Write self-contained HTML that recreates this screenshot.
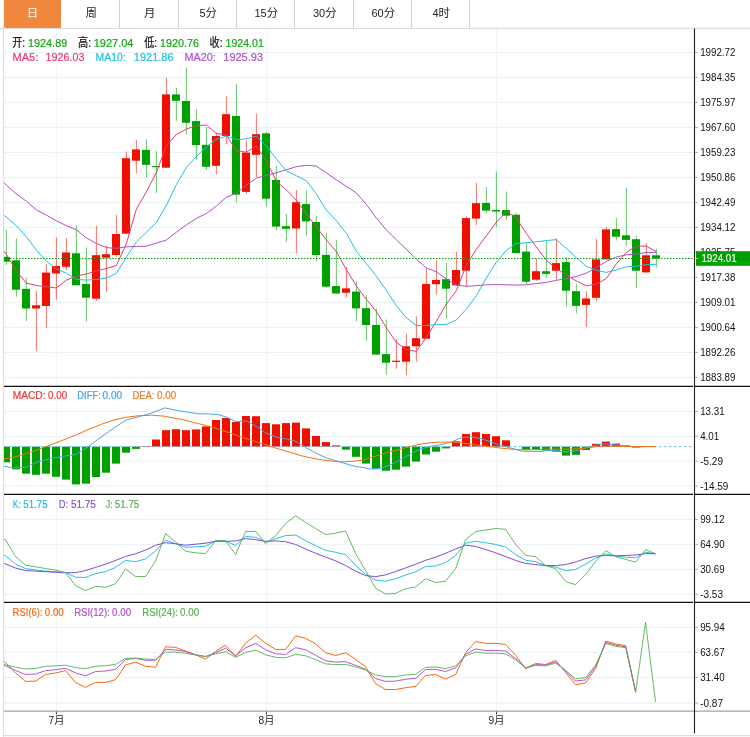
<!DOCTYPE html>
<html lang="zh-CN"><head><meta charset="utf-8"><title>K线图</title>
<style>
html,body{margin:0;padding:0;background:#fff;}
body{width:750px;height:737px;position:relative;overflow:hidden;font-family:"Liberation Sans","Noto Sans CJK SC",sans-serif;}
svg{position:absolute;left:0;top:0;font-family:"Liberation Sans","Noto Sans CJK SC",sans-serif;}
.tabs{position:absolute;left:4px;top:0;height:28px;display:flex;z-index:2}
.tab{box-sizing:border-box;height:28px;line-height:27px;text-align:center;font-size:11.4px;color:#222;padding-left:1.5px;border-right:1px solid #d2d2d2;background:#fff}
.tab span{font-size:11px}
.tab.on{background:#f0873c;color:#fff;border-right-color:#fff;height:27.7px;padding-left:0;border-radius:0 0 0 2px}
</style></head><body>
<div class="tabs"><div class="tab on" style="width:58px">日</div><div class="tab" style="width:58px">周</div><div class="tab" style="width:59px">月</div><div class="tab" style="width:58px"><span>5</span>分</div><div class="tab" style="width:58px"><span>15</span>分</div><div class="tab" style="width:59px"><span>30</span>分</div><div class="tab" style="width:58px"><span>60</span>分</div><div class="tab" style="width:58px"><span>4</span>时</div></div>
<svg width="750" height="737" viewBox="0 0 750 737">
<defs><clipPath id="cp"><rect x="4" y="28" width="691" height="684"/></clipPath></defs>
<g stroke="#e8f0f5" stroke-width="1" fill="none">
<line x1="4" x2="693" y1="52.4" y2="52.4"/>
<line x1="4" x2="693" y1="77.4" y2="77.4"/>
<line x1="4" x2="693" y1="102.4" y2="102.4"/>
<line x1="4" x2="693" y1="127.4" y2="127.4"/>
<line x1="4" x2="693" y1="152.4" y2="152.4"/>
<line x1="4" x2="693" y1="177.4" y2="177.4"/>
<line x1="4" x2="693" y1="202.4" y2="202.4"/>
<line x1="4" x2="693" y1="227.4" y2="227.4"/>
<line x1="4" x2="693" y1="252.4" y2="252.4"/>
<line x1="4" x2="693" y1="277.4" y2="277.4"/>
<line x1="4" x2="693" y1="302.4" y2="302.4"/>
<line x1="4" x2="693" y1="327.4" y2="327.4"/>
<line x1="4" x2="693" y1="352.4" y2="352.4"/>
<line x1="4" x2="693" y1="377.4" y2="377.4"/>
<line x1="4" x2="693" y1="411.5" y2="411.5"/>
<line x1="4" x2="693" y1="436.3" y2="436.3"/>
<line x1="4" x2="693" y1="461.1" y2="461.1"/>
<line x1="4" x2="693" y1="485.9" y2="485.9"/>
<line x1="4" x2="693" y1="519.4" y2="519.4"/>
<line x1="4" x2="693" y1="544.3" y2="544.3"/>
<line x1="4" x2="693" y1="569.3" y2="569.3"/>
<line x1="4" x2="693" y1="594.3" y2="594.3"/>
<line x1="4" x2="693" y1="627.3" y2="627.3"/>
<line x1="4" x2="693" y1="652.2" y2="652.2"/>
<line x1="4" x2="693" y1="677.5" y2="677.5"/>
<line x1="4" x2="693" y1="703.2" y2="703.2"/>
<line x1="56.4" x2="56.4" y1="28.5" y2="711" stroke="#eff4f8"/>
<line x1="266.5" x2="266.5" y1="28.5" y2="711" stroke="#eff4f8"/>
<line x1="496.5" x2="496.5" y1="28.5" y2="711" stroke="#eff4f8"/>
</g>
<line x1="0" x2="750" y1="28.3" y2="28.3" stroke="#dcdcdc" stroke-width="1.2"/>
<line x1="3.5" x2="3.5" y1="26" y2="737" stroke="#dcdcdc" stroke-width="1"/>
<line x1="3" x2="750" y1="735.6" y2="735.6" stroke="#dcdcdc" stroke-width="1.2"/>
<g clip-path="url(#cp)">
<line x1="6.4" x2="6.4" y1="230.0" y2="265.0" stroke="#00a000" stroke-width="1.1" stroke-opacity="0.55"/>
<rect x="2" y="256.9" width="8" height="4.7" fill="#00a000"/>
<line x1="16.4" x2="16.4" y1="238.4" y2="296.7" stroke="#00a000" stroke-width="1.1" stroke-opacity="0.55"/>
<rect x="12" y="260.3" width="8" height="29.4" fill="#00a000"/>
<line x1="26.4" x2="26.4" y1="278.2" y2="320.9" stroke="#00a000" stroke-width="1.1" stroke-opacity="0.55"/>
<rect x="22" y="288.9" width="8" height="19.6" fill="#00a000"/>
<line x1="36.4" x2="36.4" y1="290.9" y2="350.7" stroke="#ee1100" stroke-width="1.1" stroke-opacity="0.55"/>
<rect x="32" y="305.3" width="8" height="3.2" fill="#ee1100"/>
<line x1="46.4" x2="46.4" y1="264.0" y2="327.8" stroke="#ee1100" stroke-width="1.1" stroke-opacity="0.55"/>
<rect x="42" y="272.6" width="8" height="33.4" fill="#ee1100"/>
<line x1="56.4" x2="56.4" y1="237.4" y2="299.7" stroke="#ee1100" stroke-width="1.1" stroke-opacity="0.55"/>
<rect x="52" y="266.0" width="8" height="7.5" fill="#ee1100"/>
<line x1="66.4" x2="66.4" y1="237.9" y2="270.1" stroke="#ee1100" stroke-width="1.1" stroke-opacity="0.55"/>
<rect x="62" y="252.5" width="8" height="14.2" fill="#ee1100"/>
<line x1="76.4" x2="76.4" y1="225.2" y2="285.3" stroke="#00a000" stroke-width="1.1" stroke-opacity="0.55"/>
<rect x="72" y="253.3" width="8" height="32.0" fill="#00a000"/>
<line x1="86.4" x2="86.4" y1="247.4" y2="321.4" stroke="#00a000" stroke-width="1.1" stroke-opacity="0.55"/>
<rect x="82" y="284.0" width="8" height="13.7" fill="#00a000"/>
<line x1="96.4" x2="96.4" y1="225.9" y2="300.7" stroke="#ee1100" stroke-width="1.1" stroke-opacity="0.55"/>
<rect x="92" y="255.2" width="8" height="43.5" fill="#ee1100"/>
<line x1="106.4" x2="106.4" y1="245.4" y2="291.9" stroke="#ee1100" stroke-width="1.1" stroke-opacity="0.55"/>
<rect x="102" y="254.2" width="8" height="3.5" fill="#ee1100"/>
<line x1="116.4" x2="116.4" y1="215.1" y2="256.7" stroke="#ee1100" stroke-width="1.1" stroke-opacity="0.55"/>
<rect x="112" y="234.0" width="8" height="21.0" fill="#ee1100"/>
<line x1="126.4" x2="126.4" y1="151.6" y2="233.7" stroke="#ee1100" stroke-width="1.1" stroke-opacity="0.55"/>
<rect x="122" y="158.2" width="8" height="75.5" fill="#ee1100"/>
<line x1="136.4" x2="136.4" y1="140.1" y2="172.9" stroke="#ee1100" stroke-width="1.1" stroke-opacity="0.55"/>
<rect x="132" y="149.4" width="8" height="11.3" fill="#ee1100"/>
<line x1="146.4" x2="146.4" y1="139.2" y2="177.3" stroke="#00a000" stroke-width="1.1" stroke-opacity="0.55"/>
<rect x="142" y="149.9" width="8" height="14.9" fill="#00a000"/>
<line x1="156.4" x2="156.4" y1="151.1" y2="192.9" stroke="#00a000" stroke-width="1.1" stroke-opacity="0.55"/>
<rect x="152" y="166.0" width="8" height="1.2" fill="#00a000"/>
<line x1="166.4" x2="166.4" y1="77.8" y2="167.7" stroke="#ee1100" stroke-width="1.1" stroke-opacity="0.55"/>
<rect x="162" y="94.4" width="8" height="73.3" fill="#ee1100"/>
<line x1="176.4" x2="176.4" y1="87.9" y2="120.8" stroke="#00a000" stroke-width="1.1" stroke-opacity="0.55"/>
<rect x="172" y="94.4" width="8" height="6.4" fill="#00a000"/>
<line x1="186.4" x2="186.4" y1="68.3" y2="134.5" stroke="#00a000" stroke-width="1.1" stroke-opacity="0.55"/>
<rect x="182" y="101.0" width="8" height="21.8" fill="#00a000"/>
<line x1="196.4" x2="196.4" y1="109.1" y2="159.7" stroke="#00a000" stroke-width="1.1" stroke-opacity="0.55"/>
<rect x="192" y="121.1" width="8" height="23.9" fill="#00a000"/>
<line x1="206.4" x2="206.4" y1="127.2" y2="170.0" stroke="#00a000" stroke-width="1.1" stroke-opacity="0.55"/>
<rect x="202" y="144.8" width="8" height="22.0" fill="#00a000"/>
<line x1="216.4" x2="216.4" y1="133.0" y2="174.3" stroke="#ee1100" stroke-width="1.1" stroke-opacity="0.55"/>
<rect x="212" y="136.0" width="8" height="29.8" fill="#ee1100"/>
<line x1="226.4" x2="226.4" y1="96.2" y2="144.3" stroke="#ee1100" stroke-width="1.1" stroke-opacity="0.55"/>
<rect x="222" y="114.2" width="8" height="21.8" fill="#ee1100"/>
<line x1="236.4" x2="236.4" y1="84.2" y2="202.4" stroke="#00a000" stroke-width="1.1" stroke-opacity="0.55"/>
<rect x="232" y="116.0" width="8" height="78.6" fill="#00a000"/>
<line x1="246.4" x2="246.4" y1="140.3" y2="193.9" stroke="#ee1100" stroke-width="1.1" stroke-opacity="0.55"/>
<rect x="242" y="152.6" width="8" height="39.3" fill="#ee1100"/>
<line x1="256.4" x2="256.4" y1="113.7" y2="177.0" stroke="#ee1100" stroke-width="1.1" stroke-opacity="0.55"/>
<rect x="252" y="134.2" width="8" height="20.6" fill="#ee1100"/>
<line x1="266.4" x2="266.4" y1="132.0" y2="206.6" stroke="#00a000" stroke-width="1.1" stroke-opacity="0.55"/>
<rect x="262" y="133.3" width="8" height="65.4" fill="#00a000"/>
<line x1="276.4" x2="276.4" y1="166.0" y2="230.7" stroke="#00a000" stroke-width="1.1" stroke-opacity="0.55"/>
<rect x="272" y="179.9" width="8" height="46.7" fill="#00a000"/>
<line x1="286.4" x2="286.4" y1="213.9" y2="241.7" stroke="#00a000" stroke-width="1.1" stroke-opacity="0.55"/>
<rect x="282" y="226.1" width="8" height="2.7" fill="#00a000"/>
<line x1="296.4" x2="296.4" y1="189.9" y2="253.0" stroke="#ee1100" stroke-width="1.1" stroke-opacity="0.55"/>
<rect x="292" y="202.2" width="8" height="26.3" fill="#ee1100"/>
<line x1="306.4" x2="306.4" y1="190.2" y2="235.5" stroke="#00a000" stroke-width="1.1" stroke-opacity="0.55"/>
<rect x="302" y="204.1" width="8" height="17.3" fill="#00a000"/>
<line x1="316.4" x2="316.4" y1="216.1" y2="261.5" stroke="#00a000" stroke-width="1.1" stroke-opacity="0.55"/>
<rect x="312" y="222.0" width="8" height="33.0" fill="#00a000"/>
<line x1="326.4" x2="326.4" y1="233.0" y2="287.7" stroke="#00a000" stroke-width="1.1" stroke-opacity="0.55"/>
<rect x="322" y="254.9" width="8" height="31.8" fill="#00a000"/>
<line x1="336.4" x2="336.4" y1="240.0" y2="293.5" stroke="#00a000" stroke-width="1.1" stroke-opacity="0.55"/>
<rect x="332" y="286.0" width="8" height="7.5" fill="#00a000"/>
<line x1="346.4" x2="346.4" y1="266.9" y2="297.4" stroke="#ee1100" stroke-width="1.1" stroke-opacity="0.55"/>
<rect x="342" y="288.4" width="8" height="4.4" fill="#ee1100"/>
<line x1="356.4" x2="356.4" y1="281.1" y2="321.6" stroke="#00a000" stroke-width="1.1" stroke-opacity="0.55"/>
<rect x="352" y="291.6" width="8" height="16.8" fill="#00a000"/>
<line x1="366.4" x2="366.4" y1="295.2" y2="340.4" stroke="#00a000" stroke-width="1.1" stroke-opacity="0.55"/>
<rect x="362" y="308.2" width="8" height="16.8" fill="#00a000"/>
<line x1="376.4" x2="376.4" y1="308.4" y2="354.6" stroke="#00a000" stroke-width="1.1" stroke-opacity="0.55"/>
<rect x="372" y="325.0" width="8" height="29.6" fill="#00a000"/>
<line x1="386.4" x2="386.4" y1="319.4" y2="374.4" stroke="#00a000" stroke-width="1.1" stroke-opacity="0.55"/>
<rect x="382" y="354.1" width="8" height="8.6" fill="#00a000"/>
<line x1="396.4" x2="396.4" y1="339.2" y2="368.8" stroke="#ee1100" stroke-width="1.1" stroke-opacity="0.55"/>
<rect x="392" y="360.7" width="8" height="1.2" fill="#ee1100"/>
<line x1="406.4" x2="406.4" y1="333.8" y2="374.9" stroke="#ee1100" stroke-width="1.1" stroke-opacity="0.55"/>
<rect x="402" y="346.3" width="8" height="15.4" fill="#ee1100"/>
<line x1="416.4" x2="416.4" y1="316.5" y2="361.7" stroke="#ee1100" stroke-width="1.1" stroke-opacity="0.55"/>
<rect x="412" y="338.2" width="8" height="8.1" fill="#ee1100"/>
<line x1="426.4" x2="426.4" y1="268.4" y2="338.7" stroke="#ee1100" stroke-width="1.1" stroke-opacity="0.55"/>
<rect x="422" y="284.0" width="8" height="54.7" fill="#ee1100"/>
<line x1="436.4" x2="436.4" y1="260.3" y2="294.5" stroke="#ee1100" stroke-width="1.1" stroke-opacity="0.55"/>
<rect x="432" y="279.9" width="8" height="4.3" fill="#ee1100"/>
<line x1="446.4" x2="446.4" y1="263.0" y2="318.0" stroke="#00a000" stroke-width="1.1" stroke-opacity="0.55"/>
<rect x="442" y="279.2" width="8" height="9.5" fill="#00a000"/>
<line x1="456.4" x2="456.4" y1="251.9" y2="286.0" stroke="#ee1100" stroke-width="1.1" stroke-opacity="0.55"/>
<rect x="452" y="270.0" width="8" height="15.3" fill="#ee1100"/>
<line x1="466.4" x2="466.4" y1="216.2" y2="286.1" stroke="#ee1100" stroke-width="1.1" stroke-opacity="0.55"/>
<rect x="462" y="218.1" width="8" height="52.6" fill="#ee1100"/>
<line x1="476.4" x2="476.4" y1="183.0" y2="225.0" stroke="#ee1100" stroke-width="1.1" stroke-opacity="0.55"/>
<rect x="472" y="203.2" width="8" height="15.4" fill="#ee1100"/>
<line x1="486.4" x2="486.4" y1="186.9" y2="212.8" stroke="#00a000" stroke-width="1.1" stroke-opacity="0.55"/>
<rect x="482" y="203.0" width="8" height="7.6" fill="#00a000"/>
<line x1="496.4" x2="496.4" y1="171.5" y2="227.2" stroke="#00a000" stroke-width="1.1" stroke-opacity="0.55"/>
<rect x="492" y="210.0" width="8" height="1.5" fill="#00a000"/>
<line x1="506.4" x2="506.4" y1="191.5" y2="219.9" stroke="#00a000" stroke-width="1.1" stroke-opacity="0.55"/>
<rect x="502" y="210.1" width="8" height="5.6" fill="#00a000"/>
<line x1="516.4" x2="516.4" y1="213.3" y2="253.1" stroke="#00a000" stroke-width="1.1" stroke-opacity="0.55"/>
<rect x="512" y="214.7" width="8" height="38.4" fill="#00a000"/>
<line x1="526.4" x2="526.4" y1="243.1" y2="283.9" stroke="#00a000" stroke-width="1.1" stroke-opacity="0.55"/>
<rect x="522" y="251.6" width="8" height="30.1" fill="#00a000"/>
<line x1="536.4" x2="536.4" y1="259.0" y2="281.0" stroke="#ee1100" stroke-width="1.1" stroke-opacity="0.55"/>
<rect x="532" y="271.2" width="8" height="8.5" fill="#ee1100"/>
<line x1="546.4" x2="546.4" y1="240.6" y2="277.8" stroke="#00a000" stroke-width="1.1" stroke-opacity="0.55"/>
<rect x="542" y="271.2" width="8" height="2.7" fill="#00a000"/>
<line x1="556.4" x2="556.4" y1="238.2" y2="279.7" stroke="#ee1100" stroke-width="1.1" stroke-opacity="0.55"/>
<rect x="552" y="263.1" width="8" height="7.6" fill="#ee1100"/>
<line x1="566.4" x2="566.4" y1="257.0" y2="306.8" stroke="#00a000" stroke-width="1.1" stroke-opacity="0.55"/>
<rect x="562" y="262.1" width="8" height="28.6" fill="#00a000"/>
<line x1="576.4" x2="576.4" y1="283.4" y2="313.2" stroke="#00a000" stroke-width="1.1" stroke-opacity="0.55"/>
<rect x="572" y="291.2" width="8" height="14.7" fill="#00a000"/>
<line x1="586.4" x2="586.4" y1="291.2" y2="326.9" stroke="#ee1100" stroke-width="1.1" stroke-opacity="0.55"/>
<rect x="582" y="298.5" width="8" height="6.4" fill="#ee1100"/>
<line x1="596.4" x2="596.4" y1="238.9" y2="301.0" stroke="#ee1100" stroke-width="1.1" stroke-opacity="0.55"/>
<rect x="592" y="259.4" width="8" height="38.4" fill="#ee1100"/>
<line x1="606.4" x2="606.4" y1="227.2" y2="259.4" stroke="#ee1100" stroke-width="1.1" stroke-opacity="0.55"/>
<rect x="602" y="229.4" width="8" height="30.0" fill="#ee1100"/>
<line x1="616.4" x2="616.4" y1="217.9" y2="240.6" stroke="#00a000" stroke-width="1.1" stroke-opacity="0.55"/>
<rect x="612" y="229.1" width="8" height="7.6" fill="#00a000"/>
<line x1="626.4" x2="626.4" y1="188.1" y2="246.0" stroke="#00a000" stroke-width="1.1" stroke-opacity="0.55"/>
<rect x="622" y="235.3" width="8" height="4.6" fill="#00a000"/>
<line x1="636.4" x2="636.4" y1="235.7" y2="288.0" stroke="#00a000" stroke-width="1.1" stroke-opacity="0.55"/>
<rect x="632" y="239.2" width="8" height="31.5" fill="#00a000"/>
<line x1="646.4" x2="646.4" y1="243.1" y2="272.4" stroke="#ee1100" stroke-width="1.1" stroke-opacity="0.55"/>
<rect x="642" y="255.3" width="8" height="17.1" fill="#ee1100"/>
<line x1="656.4" x2="656.4" y1="248.7" y2="267.5" stroke="#00a000" stroke-width="1.1" stroke-opacity="0.55"/>
<rect x="652" y="255.3" width="8" height="3.2" fill="#00a000"/>
<path d="M3.4,250.6 L6.3,254.2 L16.3,270.9 L26.3,283.1 L36.4,285.5 L46.4,286.7 L56.4,288.0 L66.4,280.1 L76.4,276.2 L86.4,274.0 L96.5,270.9 L106.5,268.4 L116.3,265.5 L126.3,244.0 L136.4,209.0 L146.4,191.9 L156.4,172.4 L166.4,145.5 L176.4,134.5 L186.4,129.1 L196.5,125.5 L206.5,125.2 L216.3,133.3 L226.3,135.3 L236.3,150.4 L246.3,152.3 L256.3,146.0 L266.4,160.6 L276.4,181.4 L286.4,189.9 L296.4,200.2 L306.4,213.9 L316.2,226.6 L326.3,239.8 L336.4,251.8 L346.4,269.6 L356.4,286.0 L366.4,299.4 L376.4,311.6 L386.2,327.5 L396.2,342.2 L406.2,349.5 L416.3,351.4 L426.3,337.3 L436.3,321.4 L446.3,304.1 L456.3,290.7 L466.4,265.1 L476.4,249.2 L486.4,235.7 L496.4,222.3 L506.4,211.3 L516.2,217.9 L526.2,233.3 L536.2,246.7 L546.3,260.2 L556.3,268.7 L566.3,274.8 L576.3,280.9 L586.3,285.8 L596.4,284.1 L606.4,278.5 L616.4,263.8 L626.4,252.4 L636.4,246.2 L646.2,246.0 L656.2,251.6" fill="none" stroke="#e83a76" stroke-width="1"/>
<path d="M3.4,214.7 L6.3,217.1 L16.3,225.7 L26.3,236.6 L36.4,250.1 L46.4,261.1 L56.4,268.9 L66.4,273.3 L76.4,279.4 L86.4,280.1 L96.5,279.4 L106.5,278.2 L116.3,273.3 L126.3,257.4 L136.4,242.0 L146.4,232.2 L156.4,222.5 L166.4,205.4 L176.4,184.6 L186.4,167.5 L196.5,156.5 L206.5,146.7 L216.3,139.4 L226.3,136.2 L236.3,139.6 L246.3,138.9 L256.3,136.2 L266.4,146.0 L276.4,158.9 L286.4,170.9 L296.4,175.8 L306.4,180.7 L316.2,193.6 L326.2,210.0 L336.2,220.5 L346.4,233.4 L356.4,251.3 L366.4,263.7 L376.4,276.2 L386.2,290.1 L396.2,305.5 L406.2,317.7 L416.3,325.5 L426.3,325.5 L436.3,324.6 L446.3,324.4 L456.3,320.0 L466.4,309.0 L476.4,295.6 L486.4,277.8 L496.4,262.1 L506.4,250.4 L516.2,243.6 L526.2,242.6 L536.2,241.8 L546.3,240.6 L556.3,239.6 L566.3,248.4 L576.3,257.7 L586.3,266.3 L596.4,270.4 L606.4,272.4 L616.4,269.9 L626.4,266.8 L636.4,266.3 L646.2,264.6 L656.2,264.3" fill="none" stroke="#22c0e0" stroke-width="1"/>
<path d="M3.4,181.9 L6.3,185.1 L16.3,193.9 L26.3,201.2 L36.4,209.8 L46.4,215.1 L56.4,220.8 L66.4,225.7 L76.4,229.8 L86.4,237.9 L96.5,243.5 L106.5,247.6 L116.3,248.4 L126.3,246.9 L136.3,246.4 L146.3,246.2 L166.2,240.1 L176.4,232.2 L186.4,224.9 L196.5,218.3 L206.5,213.4 L216.3,206.1 L226.3,197.3 L236.3,193.2 L246.3,185.1 L256.3,178.2 L266.4,175.3 L276.4,172.8 L286.4,169.7 L296.4,166.7 L306.4,165.3 L316.2,166.0 L326.2,172.8 L336.2,179.7 L346.3,186.3 L356.3,192.9 L366.4,204.6 L376.4,218.0 L386.2,229.8 L396.2,239.5 L406.2,249.3 L416.3,259.1 L426.3,267.9 L436.3,271.8 L446.3,279.0 L456.3,285.1 L466.4,286.3 L476.4,285.6 L486.4,284.8 L496.4,284.6 L506.4,284.8 L516.2,285.1 L526.2,284.8 L536.2,283.6 L546.3,282.4 L556.3,280.4 L566.3,278.5 L576.3,276.5 L586.3,273.1 L596.4,267.7 L606.4,261.4 L616.4,257.0 L626.4,254.8 L636.4,254.1 L646.2,252.4 L656.2,252.4" fill="none" stroke="#b04fc8" stroke-width="1"/>
<line x1="4" x2="692.6" y1="258.5" y2="258.5" stroke="#069c06" stroke-width="1.1" stroke-dasharray="1.5 1.5"/>
<rect x="2" y="446.6" width="8" height="15.7" fill="#00a000"/>
<rect x="12" y="446.6" width="8" height="22.8" fill="#00a000"/>
<rect x="22" y="446.6" width="8" height="27.1" fill="#00a000"/>
<rect x="32" y="446.6" width="8" height="28.2" fill="#00a000"/>
<rect x="42" y="446.6" width="8" height="27.1" fill="#00a000"/>
<rect x="52" y="446.6" width="8" height="30.2" fill="#00a000"/>
<rect x="62" y="446.6" width="8" height="33.0" fill="#00a000"/>
<rect x="72" y="446.6" width="8" height="37.8" fill="#00a000"/>
<rect x="82" y="446.6" width="8" height="37.0" fill="#00a000"/>
<rect x="92" y="446.6" width="8" height="30.4" fill="#00a000"/>
<rect x="102" y="446.6" width="8" height="26.1" fill="#00a000"/>
<rect x="112" y="446.6" width="8" height="17.0" fill="#00a000"/>
<rect x="122" y="446.6" width="8" height="6.1" fill="#00a000"/>
<rect x="132" y="446.6" width="8" height="2.3" fill="#00a000"/>
<rect x="142" y="446.0" width="8" height="0.6" fill="#ee1100"/>
<rect x="152" y="439.5" width="8" height="7.1" fill="#ee1100"/>
<rect x="162" y="430.2" width="8" height="16.4" fill="#ee1100"/>
<rect x="172" y="429.2" width="8" height="17.4" fill="#ee1100"/>
<rect x="182" y="430.2" width="8" height="16.4" fill="#ee1100"/>
<rect x="192" y="429.4" width="8" height="17.2" fill="#ee1100"/>
<rect x="202" y="426.4" width="8" height="20.2" fill="#ee1100"/>
<rect x="212" y="420.0" width="8" height="26.6" fill="#ee1100"/>
<rect x="222" y="418.0" width="8" height="28.6" fill="#ee1100"/>
<rect x="232" y="422.0" width="8" height="24.6" fill="#ee1100"/>
<rect x="242" y="416.0" width="8" height="30.6" fill="#ee1100"/>
<rect x="252" y="416.2" width="8" height="30.4" fill="#ee1100"/>
<rect x="262" y="423.1" width="8" height="23.5" fill="#ee1100"/>
<rect x="272" y="424.3" width="8" height="22.3" fill="#ee1100"/>
<rect x="282" y="423.1" width="8" height="23.5" fill="#ee1100"/>
<rect x="292" y="422.6" width="8" height="24.0" fill="#ee1100"/>
<rect x="302" y="428.4" width="8" height="18.2" fill="#ee1100"/>
<rect x="312" y="436.0" width="8" height="10.6" fill="#ee1100"/>
<rect x="322" y="442.1" width="8" height="4.5" fill="#ee1100"/>
<rect x="332" y="445.4" width="8" height="1.2" fill="#ee1100"/>
<rect x="342" y="446.6" width="8" height="3.1" fill="#00a000"/>
<rect x="352" y="446.6" width="8" height="10.2" fill="#00a000"/>
<rect x="362" y="446.6" width="8" height="17.0" fill="#00a000"/>
<rect x="372" y="446.6" width="8" height="22.6" fill="#00a000"/>
<rect x="382" y="446.6" width="8" height="24.1" fill="#00a000"/>
<rect x="392" y="446.6" width="8" height="23.1" fill="#00a000"/>
<rect x="402" y="446.6" width="8" height="20.0" fill="#00a000"/>
<rect x="412" y="446.6" width="8" height="15.0" fill="#00a000"/>
<rect x="422" y="446.6" width="8" height="7.9" fill="#00a000"/>
<rect x="432" y="446.6" width="8" height="5.1" fill="#00a000"/>
<rect x="442" y="446.6" width="8" height="1.8" fill="#00a000"/>
<rect x="452" y="441.3" width="8" height="5.3" fill="#ee1100"/>
<rect x="462" y="434.0" width="8" height="12.6" fill="#ee1100"/>
<rect x="472" y="432.2" width="8" height="14.4" fill="#ee1100"/>
<rect x="482" y="434.0" width="8" height="12.6" fill="#ee1100"/>
<rect x="492" y="436.2" width="8" height="10.4" fill="#ee1100"/>
<rect x="502" y="440.3" width="8" height="6.3" fill="#ee1100"/>
<rect x="522" y="446.6" width="8" height="3.1" fill="#00a000"/>
<rect x="532" y="446.6" width="8" height="2.6" fill="#00a000"/>
<rect x="542" y="446.6" width="8" height="4.0" fill="#00a000"/>
<rect x="552" y="446.6" width="8" height="5.1" fill="#00a000"/>
<rect x="562" y="446.6" width="8" height="9.0" fill="#00a000"/>
<rect x="572" y="446.6" width="8" height="8.2" fill="#00a000"/>
<rect x="582" y="446.6" width="8" height="3.4" fill="#00a000"/>
<rect x="592" y="443.8" width="8" height="2.8" fill="#ee1100"/>
<rect x="602" y="441.6" width="8" height="5.0" fill="#ee1100"/>
<rect x="612" y="443.6" width="8" height="3.0" fill="#ee1100"/>
<rect x="622" y="445.5" width="8" height="1.1" fill="#ee1100"/>
<rect x="632" y="446.6" width="8" height="0.9" fill="#00a000"/>
<line x1="4" x2="692" y1="446.6" y2="446.6" stroke="#6dbde8" stroke-width="1" stroke-dasharray="2.5 2.5"/>
<path d="M3.2,466.1 L12.6,467.9 L25.2,467.4 L37.9,461.8 L50.6,458.5 L63.2,456.3 L75.9,454.5 L88.6,446.4 L101.2,437.0 L113.9,428.1 L126.6,419.8 L139.2,416.7 L151.9,412.9 L164.6,407.9 L177.2,410.4 L187.5,412.2 L197.6,413.7 L207.8,413.9 L217.9,414.5 L226.8,417.2 L236.1,421.6 L246.3,421.0 L255.9,426.1 L266.0,433.2 L276.2,437.0 L286.3,439.0 L296.4,441.6 L306.6,447.9 L316.7,453.5 L326.8,458.0 L337.0,461.1 L347.1,464.1 L357.2,466.9 L359.9,466.9 L370.0,468.9 L380.2,468.4 L390.3,464.9 L400.4,459.8 L410.6,454.0 L420.7,448.9 L430.8,446.4 L441.0,444.6 L451.1,442.1 L461.2,437.8 L471.4,436.8 L481.5,438.8 L491.6,442.3 L501.8,445.4 L511.9,448.4 L522.0,451.2 L532.2,451.4 L542.3,451.4 L546.1,450.3 L556.1,450.6 L566.2,452.0 L576.0,450.8 L586.1,447.8 L596.2,445.0 L606.3,443.8 L616.1,445.0 L626.2,446.1 L636.2,446.9 L646.0,446.6 L656.1,446.6" fill="none" stroke="#4aa3ea" stroke-width="1"/>
<path d="M3.2,459.0 L12.6,457.5 L25.2,454.0 L37.9,449.7 L50.6,444.9 L63.2,440.0 L75.9,435.0 L88.6,429.4 L101.2,424.3 L113.9,420.0 L126.6,417.2 L139.2,415.7 L151.9,415.2 L164.6,416.2 L177.2,418.8 L179.9,419.0 L190.0,421.6 L200.2,424.1 L210.3,426.6 L220.4,429.7 L230.6,433.2 L240.7,436.8 L250.8,440.0 L261.0,443.3 L271.1,446.6 L281.2,449.7 L291.4,452.7 L301.5,455.8 L311.6,458.0 L321.8,459.8 L331.9,461.1 L342.0,461.8 L352.2,461.3 L359.9,460.6 L362.3,460.3 L370.0,457.8 L380.2,454.7 L390.3,451.7 L400.4,449.2 L410.6,446.4 L420.7,444.1 L430.8,442.6 L441.0,442.1 L451.1,442.1 L461.2,442.8 L471.4,444.4 L481.5,445.6 L491.6,446.9 L501.8,448.2 L511.9,449.2 L522.0,449.9 L532.2,449.7 L542.3,449.4 L546.1,449.2 L556.1,449.2 L566.2,449.2 L576.0,448.9 L586.1,448.0 L596.2,446.6 L606.3,446.1 L616.1,446.1 L626.2,446.4 L636.2,446.6 L646.0,446.6 L656.1,446.6" fill="none" stroke="#f8710f" stroke-width="1"/>
<path d="M3.0,555.1 L5.5,555.9 L15.6,564.2 L25.5,568.5 L35.6,570.1 L45.5,571.1 L55.6,571.8 L65.5,572.6 L75.7,577.2 L85.5,577.4 L95.7,573.6 L105.6,571.6 L115.7,567.3 L125.6,560.4 L135.7,561.7 L145.6,558.9 L155.7,550.8 L165.6,540.2 L175.5,543.7 L185.5,547.3 L195.6,546.8 L205.5,546.2 L215.6,540.9 L225.5,540.9 L235.6,545.5 L245.5,536.4 L255.7,537.4 L265.5,541.9 L275.7,538.9 L285.6,535.6 L295.7,535.1 L305.6,540.7 L315.7,545.7 L325.6,550.3 L335.7,552.3 L345.6,554.6 L355.5,565.5 L365.5,574.1 L375.6,580.2 L385.5,581.2 L395.6,578.7 L405.5,575.1 L415.6,571.8 L425.5,566.5 L435.7,566.0 L445.5,562.5 L455.7,555.4 L465.6,543.2 L475.7,541.4 L485.6,542.7 L495.7,544.5 L505.6,547.0 L515.7,554.6 L525.6,560.2 L535.5,561.7 L545.6,565.6 L555.6,567.0 L565.7,570.6 L575.5,569.5 L585.6,564.2 L595.7,558.0 L605.8,553.8 L615.6,556.1 L625.7,557.2 L635.7,557.8 L645.5,552.2 L655.6,553.8" fill="none" stroke="#1cbde0" stroke-width="0.95"/>
<path d="M3.0,563.0 L5.5,564.0 L15.6,568.0 L25.5,570.6 L35.6,571.1 L45.5,571.6 L55.6,572.3 L65.5,572.8 L75.7,572.6 L85.5,570.6 L95.7,567.3 L105.6,564.2 L115.7,560.4 L125.6,556.4 L135.7,553.8 L145.6,550.0 L155.7,545.2 L165.6,542.7 L175.5,543.7 L185.5,545.2 L195.6,544.2 L205.5,543.2 L215.6,541.2 L225.5,541.4 L235.6,540.9 L245.5,538.6 L255.7,539.7 L265.5,541.4 L275.7,540.9 L285.6,541.7 L295.7,544.5 L305.6,549.0 L315.7,553.3 L325.6,557.1 L335.7,560.9 L345.6,565.5 L355.5,571.1 L365.5,575.6 L375.6,576.6 L385.5,574.9 L395.6,571.6 L405.5,568.0 L415.6,564.2 L425.5,560.4 L435.7,557.1 L445.5,553.3 L455.7,549.0 L465.6,545.2 L475.7,546.5 L485.6,549.5 L495.7,552.8 L505.6,556.6 L515.7,560.4 L525.6,563.5 L535.5,564.5 L545.6,565.6 L555.6,565.6 L565.7,564.5 L575.5,562.0 L585.6,558.6 L595.7,556.1 L605.8,555.5 L615.6,555.8 L625.7,555.5 L635.7,555.0 L645.5,553.6 L655.6,553.8" fill="none" stroke="#7f4ed2" stroke-width="1"/>
<path d="M3.0,538.9 L5.5,539.7 L15.6,556.6 L25.5,565.2 L35.6,566.8 L45.5,568.5 L55.6,570.1 L65.5,572.6 L75.7,585.8 L85.5,590.6 L95.7,586.3 L105.6,587.3 L115.7,583.7 L125.6,569.0 L135.7,576.6 L145.6,576.4 L155.7,560.9 L165.6,533.6 L175.5,541.9 L185.5,551.3 L195.6,552.8 L205.5,553.6 L215.6,540.7 L225.5,540.7 L235.6,554.6 L245.5,531.6 L255.7,531.3 L265.5,543.7 L275.7,535.6 L285.6,523.4 L295.7,515.8 L305.6,522.4 L315.7,528.5 L325.6,534.6 L335.7,533.1 L345.6,531.0 L355.5,553.3 L365.5,570.6 L375.6,588.3 L385.5,593.9 L395.6,593.4 L405.5,588.8 L415.6,587.0 L425.5,578.7 L435.7,582.5 L445.5,581.2 L455.7,568.5 L465.6,539.4 L475.7,531.6 L485.6,530.0 L495.7,528.5 L505.6,529.3 L515.7,544.5 L525.6,555.4 L535.5,556.6 L545.6,565.6 L555.6,568.7 L565.7,581.6 L575.5,584.7 L585.6,574.6 L595.7,561.4 L605.8,550.5 L615.6,556.6 L625.7,559.4 L635.7,562.2 L645.5,549.6 L655.6,553.8" fill="none" stroke="#55b055" stroke-width="0.9"/>
<path d="M3.0,661.1 L5.5,662.4 L15.6,673.0 L25.5,681.4 L35.6,681.1 L45.5,674.5 L55.6,673.0 L65.5,670.5 L75.7,682.6 L85.5,687.4 L95.7,682.4 L105.6,682.4 L115.7,679.6 L125.6,664.9 L135.7,662.1 L145.6,666.4 L155.7,667.2 L165.6,646.7 L175.5,647.4 L185.5,651.0 L195.6,654.8 L205.5,659.1 L215.6,651.5 L225.5,645.1 L235.6,656.5 L245.5,643.4 L255.7,635.3 L265.5,643.1 L275.7,649.4 L285.6,649.4 L295.7,635.8 L305.6,638.3 L315.7,643.9 L325.6,652.7 L335.7,655.5 L345.6,652.7 L355.5,659.3 L365.5,666.7 L375.6,683.6 L385.5,689.5 L395.6,689.5 L405.5,687.7 L415.6,686.4 L425.5,675.5 L435.7,674.5 L445.5,679.1 L455.7,674.5 L465.6,652.7 L475.7,641.6 L485.6,643.4 L495.7,643.4 L505.6,644.4 L515.7,655.3 L525.6,668.7 L535.5,663.4 L545.6,664.5 L555.6,660.3 L565.7,672.6 L575.5,684.7 L585.6,683.0 L595.7,668.4 L605.8,641.0 L615.6,644.0 L625.7,645.7 L635.7,692.2" fill="none" stroke="#f8690f" stroke-width="1"/>
<path d="M3.0,664.9 L5.5,665.9 L15.6,670.5 L25.5,674.5 L35.6,674.0 L45.5,670.7 L55.6,669.7 L65.5,668.2 L75.7,673.0 L85.5,675.8 L95.7,671.5 L105.6,671.0 L115.7,669.2 L125.6,659.6 L135.7,658.3 L145.6,660.3 L155.7,660.3 L165.6,649.4 L175.5,650.0 L185.5,651.5 L195.6,654.8 L205.5,656.5 L215.6,652.7 L225.5,648.2 L235.6,655.8 L245.5,647.9 L255.7,643.4 L265.5,649.7 L275.7,653.8 L285.6,654.5 L295.7,647.7 L305.6,649.7 L315.7,655.3 L325.6,660.8 L335.7,662.1 L345.6,661.6 L355.5,665.4 L365.5,669.2 L375.6,678.6 L385.5,681.4 L395.6,681.1 L405.5,679.3 L415.6,678.3 L425.5,669.7 L435.7,669.2 L445.5,671.5 L455.7,667.9 L465.6,654.3 L475.7,648.9 L485.6,650.5 L495.7,650.5 L505.6,651.0 L515.7,658.6 L525.6,667.9 L535.5,664.6 L545.6,665.0 L555.6,662.0 L565.7,671.2 L575.5,681.0 L585.6,679.9 L595.7,666.4 L605.8,642.4 L615.6,645.2 L625.7,646.8 L635.7,692.2" fill="none" stroke="#b04fc8" stroke-width="0.95"/>
<path d="M3.0,663.4 L5.5,664.9 L15.6,667.2 L25.5,669.0 L35.6,668.4 L45.5,666.4 L55.6,665.9 L65.5,665.2 L75.7,667.7 L85.5,668.7 L95.7,666.2 L105.6,665.7 L115.7,664.4 L125.6,658.3 L135.7,658.1 L145.6,659.1 L155.7,659.3 L165.6,652.0 L175.5,652.2 L185.5,653.2 L195.6,655.0 L205.5,656.5 L215.6,653.8 L225.5,651.7 L235.6,657.3 L245.5,652.5 L255.7,650.0 L265.5,654.8 L275.7,657.3 L285.6,657.8 L295.7,654.3 L305.6,655.8 L315.7,659.6 L325.6,663.9 L335.7,664.6 L345.6,664.4 L355.5,666.9 L365.5,670.0 L375.6,675.0 L385.5,676.6 L395.6,676.6 L405.5,675.0 L415.6,674.3 L425.5,667.4 L435.7,666.9 L445.5,668.7 L455.7,665.9 L465.6,655.8 L475.7,652.0 L485.6,653.2 L495.7,653.2 L505.6,653.8 L515.7,659.8 L525.6,667.9 L535.5,665.4 L545.6,665.9 L555.6,663.1 L565.7,670.4 L575.5,678.8 L585.6,677.6 L595.7,665.0 L605.8,643.5 L615.6,646.3 L625.7,647.7 L635.7,692.2 L645.5,622.2 L655.6,702.0" fill="none" stroke="#55b055" stroke-width="0.9"/>
</g>
<line x1="4" x2="693.2" y1="386.3" y2="386.3" stroke="#111" stroke-width="1.2"/>
<line x1="695" x2="750" y1="386.3" y2="386.3" stroke="#111" stroke-width="1.2"/>
<line x1="4" x2="693.2" y1="494.4" y2="494.4" stroke="#111" stroke-width="1.2"/>
<line x1="695" x2="750" y1="494.4" y2="494.4" stroke="#111" stroke-width="1.2"/>
<line x1="4" x2="693.2" y1="602.3" y2="602.3" stroke="#111" stroke-width="1.2"/>
<line x1="695" x2="750" y1="602.3" y2="602.3" stroke="#111" stroke-width="1.2"/>
<line x1="4" x2="750" y1="711.1" y2="711.1" stroke="#8a8a8a" stroke-width="1"/>
<line x1="694.5" x2="694.5" y1="28.5" y2="733.5" stroke="#222" stroke-width="1.1"/>
<line x1="695.2" x2="697.8" y1="52.4" y2="52.4" stroke="#9a9a9a" stroke-width="0.9"/>
<text x="700.2" y="56.1" font-size="10" fill="#111" textLength="35.2" lengthAdjust="spacingAndGlyphs">1992.72</text>
<line x1="695.2" x2="697.8" y1="77.4" y2="77.4" stroke="#9a9a9a" stroke-width="0.9"/>
<text x="700.2" y="81.1" font-size="10" fill="#111" textLength="35.2" lengthAdjust="spacingAndGlyphs">1984.35</text>
<line x1="695.2" x2="697.8" y1="102.4" y2="102.4" stroke="#9a9a9a" stroke-width="0.9"/>
<text x="700.2" y="106.1" font-size="10" fill="#111" textLength="35.2" lengthAdjust="spacingAndGlyphs">1975.97</text>
<line x1="695.2" x2="697.8" y1="127.4" y2="127.4" stroke="#9a9a9a" stroke-width="0.9"/>
<text x="700.2" y="131.1" font-size="10" fill="#111" textLength="35.2" lengthAdjust="spacingAndGlyphs">1967.60</text>
<line x1="695.2" x2="697.8" y1="152.4" y2="152.4" stroke="#9a9a9a" stroke-width="0.9"/>
<text x="700.2" y="156.1" font-size="10" fill="#111" textLength="35.2" lengthAdjust="spacingAndGlyphs">1959.23</text>
<line x1="695.2" x2="697.8" y1="177.4" y2="177.4" stroke="#9a9a9a" stroke-width="0.9"/>
<text x="700.2" y="181.1" font-size="10" fill="#111" textLength="35.2" lengthAdjust="spacingAndGlyphs">1950.86</text>
<line x1="695.2" x2="697.8" y1="202.4" y2="202.4" stroke="#9a9a9a" stroke-width="0.9"/>
<text x="700.2" y="206.1" font-size="10" fill="#111" textLength="35.2" lengthAdjust="spacingAndGlyphs">1942.49</text>
<line x1="695.2" x2="697.8" y1="227.4" y2="227.4" stroke="#9a9a9a" stroke-width="0.9"/>
<text x="700.2" y="231.1" font-size="10" fill="#111" textLength="35.2" lengthAdjust="spacingAndGlyphs">1934.12</text>
<line x1="695.2" x2="697.8" y1="252.4" y2="252.4" stroke="#9a9a9a" stroke-width="0.9"/>
<text x="700.2" y="256.1" font-size="10" fill="#111" textLength="35.2" lengthAdjust="spacingAndGlyphs">1925.75</text>
<line x1="695.2" x2="697.8" y1="277.4" y2="277.4" stroke="#9a9a9a" stroke-width="0.9"/>
<text x="700.2" y="281.1" font-size="10" fill="#111" textLength="35.2" lengthAdjust="spacingAndGlyphs">1917.38</text>
<line x1="695.2" x2="697.8" y1="302.4" y2="302.4" stroke="#9a9a9a" stroke-width="0.9"/>
<text x="700.2" y="306.1" font-size="10" fill="#111" textLength="35.2" lengthAdjust="spacingAndGlyphs">1909.01</text>
<line x1="695.2" x2="697.8" y1="327.4" y2="327.4" stroke="#9a9a9a" stroke-width="0.9"/>
<text x="700.2" y="331.1" font-size="10" fill="#111" textLength="35.2" lengthAdjust="spacingAndGlyphs">1900.64</text>
<line x1="695.2" x2="697.8" y1="352.4" y2="352.4" stroke="#9a9a9a" stroke-width="0.9"/>
<text x="700.2" y="356.1" font-size="10" fill="#111" textLength="35.2" lengthAdjust="spacingAndGlyphs">1892.26</text>
<line x1="695.2" x2="697.8" y1="377.4" y2="377.4" stroke="#9a9a9a" stroke-width="0.9"/>
<text x="700.2" y="381.1" font-size="10" fill="#111" textLength="35.2" lengthAdjust="spacingAndGlyphs">1883.89</text>
<line x1="695.2" x2="697.8" y1="411.5" y2="411.5" stroke="#9a9a9a" stroke-width="0.9"/>
<text x="700.2" y="415.2" font-size="10" fill="#111" textLength="24.4" lengthAdjust="spacingAndGlyphs">13.31</text>
<line x1="695.2" x2="697.8" y1="436.3" y2="436.3" stroke="#9a9a9a" stroke-width="0.9"/>
<text x="700.2" y="440.0" font-size="10" fill="#111" textLength="19.0" lengthAdjust="spacingAndGlyphs">4.01</text>
<line x1="695.2" x2="697.8" y1="461.1" y2="461.1" stroke="#9a9a9a" stroke-width="0.9"/>
<text x="700.2" y="464.8" font-size="10" fill="#111" textLength="22.8" lengthAdjust="spacingAndGlyphs">-5.29</text>
<line x1="695.2" x2="697.8" y1="485.9" y2="485.9" stroke="#9a9a9a" stroke-width="0.9"/>
<text x="700.2" y="489.6" font-size="10" fill="#111" textLength="28.2" lengthAdjust="spacingAndGlyphs">-14.59</text>
<line x1="695.2" x2="697.8" y1="519.4" y2="519.4" stroke="#9a9a9a" stroke-width="0.9"/>
<text x="700.2" y="523.1" font-size="10" fill="#111" textLength="24.4" lengthAdjust="spacingAndGlyphs">99.12</text>
<line x1="695.2" x2="697.8" y1="544.3" y2="544.3" stroke="#9a9a9a" stroke-width="0.9"/>
<text x="700.2" y="548.0" font-size="10" fill="#111" textLength="24.4" lengthAdjust="spacingAndGlyphs">64.90</text>
<line x1="695.2" x2="697.8" y1="569.3" y2="569.3" stroke="#9a9a9a" stroke-width="0.9"/>
<text x="700.2" y="573.0" font-size="10" fill="#111" textLength="24.4" lengthAdjust="spacingAndGlyphs">30.69</text>
<line x1="695.2" x2="697.8" y1="594.3" y2="594.3" stroke="#9a9a9a" stroke-width="0.9"/>
<text x="700.2" y="598.0" font-size="10" fill="#111" textLength="22.8" lengthAdjust="spacingAndGlyphs">-3.53</text>
<line x1="695.2" x2="697.8" y1="627.3" y2="627.3" stroke="#9a9a9a" stroke-width="0.9"/>
<text x="700.2" y="631.0" font-size="10" fill="#111" textLength="24.4" lengthAdjust="spacingAndGlyphs">95.94</text>
<line x1="695.2" x2="697.8" y1="652.2" y2="652.2" stroke="#9a9a9a" stroke-width="0.9"/>
<text x="700.2" y="655.9" font-size="10" fill="#111" textLength="24.4" lengthAdjust="spacingAndGlyphs">63.67</text>
<line x1="695.2" x2="697.8" y1="677.5" y2="677.5" stroke="#9a9a9a" stroke-width="0.9"/>
<text x="700.2" y="681.2" font-size="10" fill="#111" textLength="24.4" lengthAdjust="spacingAndGlyphs">31.40</text>
<line x1="695.2" x2="697.8" y1="703.2" y2="703.2" stroke="#9a9a9a" stroke-width="0.9"/>
<text x="700.2" y="706.9" font-size="10" fill="#111" textLength="22.8" lengthAdjust="spacingAndGlyphs">-0.87</text>
<rect x="696" y="251.2" width="54" height="14.6" fill="#00a000"/>
<line x1="696" x2="698.5" y1="258.6" y2="258.6" stroke="#fff" stroke-opacity="0.6" stroke-width="1"/>
<text x="701.4" y="262.2" font-size="10" fill="#fff" stroke="#fff" stroke-width="0.15" textLength="35.2" lengthAdjust="spacingAndGlyphs">1924.01</text>
<text x="12.2" y="46.5" font-size="12" fill="#111" stroke="#111" stroke-width="0.2" textLength="13" lengthAdjust="spacingAndGlyphs">开:</text>
<text x="28" y="46.5" font-size="11" fill="#10a810" stroke="#10a810" stroke-width="0.2" textLength="39.2" lengthAdjust="spacingAndGlyphs">1924.89</text>
<text x="78" y="46.5" font-size="12" fill="#111" stroke="#111" stroke-width="0.2" textLength="13" lengthAdjust="spacingAndGlyphs">高:</text>
<text x="93.7" y="46.5" font-size="11" fill="#10a810" stroke="#10a810" stroke-width="0.2" textLength="39.8" lengthAdjust="spacingAndGlyphs">1927.04</text>
<text x="144.2" y="46.5" font-size="12" fill="#111" stroke="#111" stroke-width="0.2" textLength="13" lengthAdjust="spacingAndGlyphs">低:</text>
<text x="159.9" y="46.5" font-size="11" fill="#10a810" stroke="#10a810" stroke-width="0.2" textLength="39.2" lengthAdjust="spacingAndGlyphs">1920.76</text>
<text x="209.6" y="46.5" font-size="12" fill="#111" stroke="#111" stroke-width="0.2" textLength="13" lengthAdjust="spacingAndGlyphs">收:</text>
<text x="225.6" y="46.5" font-size="11" fill="#10a810" stroke="#10a810" stroke-width="0.2" textLength="38.2" lengthAdjust="spacingAndGlyphs">1924.01</text>
<text x="12.5" y="61" font-size="11.2" fill="#e83a76" stroke="#e83a76" stroke-width="0.2" textLength="25.8" lengthAdjust="spacingAndGlyphs">MA5:</text>
<text x="45.6" y="61" font-size="11.2" fill="#e83a76" stroke="#e83a76" stroke-width="0.2" textLength="38.8" lengthAdjust="spacingAndGlyphs">1926.03</text>
<text x="95.6" y="61" font-size="11.2" fill="#22c0e0" stroke="#22c0e0" stroke-width="0.2" textLength="30" lengthAdjust="spacingAndGlyphs">MA10:</text>
<text x="133.8" y="61" font-size="11.2" fill="#22c0e0" stroke="#22c0e0" stroke-width="0.2" textLength="39.8" lengthAdjust="spacingAndGlyphs">1921.86</text>
<text x="184.6" y="61" font-size="11.2" fill="#b04fc8" stroke="#b04fc8" stroke-width="0.2" textLength="31.2" lengthAdjust="spacingAndGlyphs">MA20:</text>
<text x="223.3" y="61" font-size="11.2" fill="#b04fc8" stroke="#b04fc8" stroke-width="0.2" textLength="39.7" lengthAdjust="spacingAndGlyphs">1925.93</text>
<text x="12.7" y="399.3" font-size="11" fill="#f03535" stroke="#f03535" stroke-width="0.2" textLength="32.9" lengthAdjust="spacingAndGlyphs">MACD:</text>
<text x="48.1" y="399.3" font-size="11" fill="#f03535" stroke="#f03535" stroke-width="0.2" textLength="19" lengthAdjust="spacingAndGlyphs">0.00</text>
<text x="77.3" y="399.3" font-size="11" fill="#3f9eee" stroke="#3f9eee" stroke-width="0.2" textLength="23.5" lengthAdjust="spacingAndGlyphs">DIFF:</text>
<text x="102.6" y="399.3" font-size="11" fill="#3f9eee" stroke="#3f9eee" stroke-width="0.2" textLength="19.5" lengthAdjust="spacingAndGlyphs">0.00</text>
<text x="132.5" y="399.3" font-size="11" fill="#f47a1e" stroke="#f47a1e" stroke-width="0.2" textLength="22" lengthAdjust="spacingAndGlyphs">DEA:</text>
<text x="157.1" y="399.3" font-size="11" fill="#f47a1e" stroke="#f47a1e" stroke-width="0.2" textLength="19" lengthAdjust="spacingAndGlyphs">0.00</text>
<text x="12.7" y="507.9" font-size="11.3" fill="#1cbde0" stroke="#1cbde0" stroke-width="0.2" textLength="8.1" lengthAdjust="spacingAndGlyphs">K:</text>
<text x="23.3" y="507.9" font-size="11.3" fill="#1cbde0" stroke="#1cbde0" stroke-width="0.2" textLength="24.3" lengthAdjust="spacingAndGlyphs">51.75</text>
<text x="59" y="507.9" font-size="11.3" fill="#7f4ed2" stroke="#7f4ed2" stroke-width="0.2" textLength="8.9" lengthAdjust="spacingAndGlyphs">D:</text>
<text x="70.9" y="507.9" font-size="11.3" fill="#7f4ed2" stroke="#7f4ed2" stroke-width="0.2" textLength="24.9" lengthAdjust="spacingAndGlyphs">51.75</text>
<text x="105.8" y="507.9" font-size="11.3" fill="#55b055" stroke="#55b055" stroke-width="0.2" textLength="7" lengthAdjust="spacingAndGlyphs">J:</text>
<text x="114.8" y="507.9" font-size="11.3" fill="#55b055" stroke="#55b055" stroke-width="0.2" textLength="24.5" lengthAdjust="spacingAndGlyphs">51.75</text>
<text x="12.6" y="616.1" font-size="11" fill="#f8690f" stroke="#f8690f" stroke-width="0.2" textLength="30" lengthAdjust="spacingAndGlyphs">RSI(6):</text>
<text x="44.8" y="616.1" font-size="11" fill="#f8690f" stroke="#f8690f" stroke-width="0.2" textLength="19" lengthAdjust="spacingAndGlyphs">0.00</text>
<text x="74.2" y="616.1" font-size="11" fill="#b04fc8" stroke="#b04fc8" stroke-width="0.2" textLength="35.6" lengthAdjust="spacingAndGlyphs">RSI(12):</text>
<text x="112" y="616.1" font-size="11" fill="#b04fc8" stroke="#b04fc8" stroke-width="0.2" textLength="19.1" lengthAdjust="spacingAndGlyphs">0.00</text>
<text x="142.3" y="616.1" font-size="11" fill="#55b055" stroke="#55b055" stroke-width="0.2" textLength="35.5" lengthAdjust="spacingAndGlyphs">RSI(24):</text>
<text x="180.1" y="616.1" font-size="11" fill="#55b055" stroke="#55b055" stroke-width="0.2" textLength="19" lengthAdjust="spacingAndGlyphs">0.00</text>
<line x1="56.4" x2="56.4" y1="711.5" y2="714.5" stroke="#444" stroke-width="1"/>
<text x="56.4" y="724.3" font-size="10.2" fill="#222" text-anchor="middle">7月</text>
<line x1="266.5" x2="266.5" y1="711.5" y2="714.5" stroke="#444" stroke-width="1"/>
<text x="266.5" y="724.3" font-size="10.2" fill="#222" text-anchor="middle">8月</text>
<line x1="496.5" x2="496.5" y1="711.5" y2="714.5" stroke="#444" stroke-width="1"/>
<text x="496.5" y="724.3" font-size="10.2" fill="#222" text-anchor="middle">9月</text>
</svg>
</body></html>
